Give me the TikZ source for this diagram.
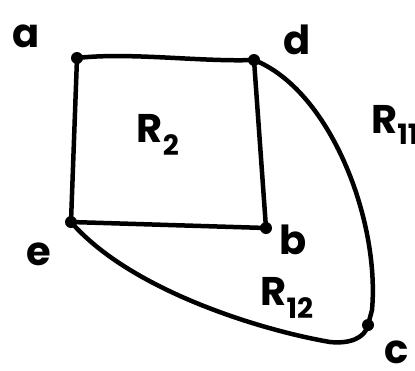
\documentclass[tikz,border=0pt]{standalone}
\usepackage{fontspec}
\setmainfont{Poppins}
\begin{document}
\begin{tikzpicture}[x=1pt,y=-1pt,
  edge/.style={line width=4.5pt,line cap=round,line join=round},
  vtx/.style={circle,fill=black,inner sep=0pt,minimum size=12pt},
  lbl/.style={font=\fontsize{40}{40}\selectfont\bfseries,inner sep=0pt}]
\useasboundingbox (0,0) rectangle (415,370);
\node[vtx] (a) at (77,58) {};
\node[vtx] (d) at (254,60) {};
\node[vtx] (b) at (266,228) {};
\node[vtx] (e) at (71,222) {};
\node[vtx] (c) at (368,325) {};
\draw[edge] (a.center) .. controls (130,52) and (200,62) .. (d.center);
\draw[edge] (a.center) -- (e.center);
\draw[edge] (d.center) -- (b.center);
\draw[edge] (e.center) -- (b.center);
\draw[edge] (d.center) .. controls (330,90) and (380,220) .. (372,310) -- (c.center);
\draw[edge] (e.center) .. controls (130,290) and (260,330) .. (330,342) .. controls (350,344) and (365,338) .. (c.center);
\node[lbl] (la) at (26,36) {a};
\node[lbl] (ld) at (297,40) {d};
\node[lbl] (le) at (39,254) {e};
\node[lbl] (lb) at (293,240) {b};
\node[lbl] (lc) at (397,352) {c};
\node[lbl] (r2) at (158,135) {R\textsubscript{2}};
\node[lbl,anchor=west] (r11) at (371,125) {R\textsubscript{11}};
\node[lbl] (r12) at (287,298) {R\textsubscript{12}};
\end{tikzpicture}
\end{document}
